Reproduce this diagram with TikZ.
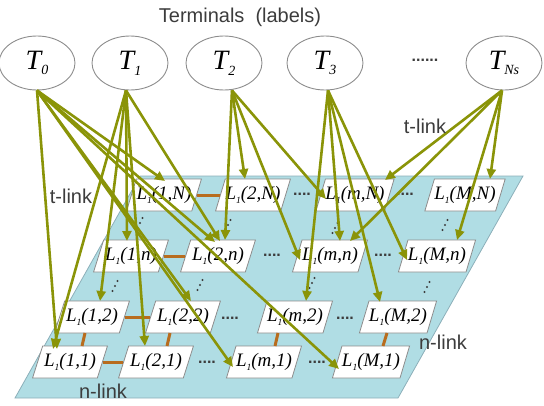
\documentclass[tikz,border=0pt]{standalone}
\usepackage{fontspec}
\setmainfont{Liberation Serif}
\newfontfamily\arialf{Liberation Sans}
\usetikzlibrary{shapes.geometric,arrows.meta,calc}
\definecolor{tlc}{RGB}{138,148,8}
\definecolor{nlc}{RGB}{184,108,30}
\definecolor{planec}{RGB}{176,221,228}
\definecolor{planeb}{RGB}{140,175,185}
\definecolor{boxb}{RGB}{140,140,140}
\definecolor{txtc}{RGB}{60,60,60}
\newcommand\lsub[1]{\raisebox{-0.45ex}{\scalebox{0.5}{#1}}}
\begin{document}
\begin{tikzpicture}[x=1pt,y=-1pt,
  term/.style={ellipse, draw=boxb, line width=0.9pt, minimum width=76pt, minimum height=54pt, inner sep=0pt, font=\fontsize{28}{30}\selectfont\itshape},
  lab/.style={trapezium, trapezium left angle=61, trapezium right angle=119, trapezium stretches=true, minimum width=75pt, minimum height=32pt, inner sep=0pt, draw=boxb, fill=white, line width=0.8pt, font=\fontsize{19}{20}\selectfont\itshape},
  tl/.style={draw=tlc, line width=2.6pt, -{Triangle[length=10pt,width=9pt]}},
  nl/.style={draw=nlc, line width=3pt},
  sans/.style={font=\arialf\fontsize{20}{22}\selectfont, text=txtc, inner sep=0pt},
  hdots/.style={font=\arialf\fontsize{16}{16}\selectfont\bfseries, text=txtc, inner sep=0pt}
]
\useasboundingbox (0,0) rectangle (544,405);
% plane
\filldraw[fill=planec, draw=planeb, line width=0.8pt] (140,176) -- (523,176) -- (398,398) -- (15,398) -- cycle;

% title
\node[sans] (title) at (240,17) {Terminals\ \ (labels)};

% terminals
\node[term] (T0) at (37,63) {T\lsub{0}};
\node[term] (T1) at (130,63) {T\lsub{1}};
\node[term] (T2) at (224,63) {T\lsub{2}};
\node[term] (T3) at (325,63) {T\lsub{3}};
\node[term] (TNs) at (504,63) {T\lsub{Ns}};
\node[hdots] (tdots) at (425,60) {......};

% label nodes
\node[lab] (L1N) at (164,195) {L\lsub{1}(1,N)};
\node[lab] (L2N) at (253,195) {L\lsub{1}(2,N)};
\node[lab] (LmN) at (355,195) {L\lsub{1}(m,N)};
\node[lab] (LMN) at (465,195) {L\lsub{1}(M,N)};
\node[lab] (L1n) at (131,256) {L\lsub{1}(1,n)};
\node[lab] (L2n) at (218,256) {L\lsub{1}(2,n)};
\node[lab] (Lmn) at (330,256) {L\lsub{1}(m,n)};
\node[lab] (LMn) at (437,256) {L\lsub{1}(M,n)};
\node[lab] (L12) at (92,317) {L\lsub{1}(1,2)};
\node[lab] (L22) at (183,317) {L\lsub{1}(2,2)};
\node[lab] (Lm2) at (295,317) {L\lsub{1}(m,2)};
\node[lab] (LM2) at (398,317) {L\lsub{1}(M,2)};
\node[lab] (L11) at (70,362) {L\lsub{1}(1,1)};
\node[lab] (L21) at (156,362) {L\lsub{1}(2,1)};
\node[lab] (Lm1) at (264,362) {L\lsub{1}(m,1)};
\node[lab] (LM1) at (371,362) {L\lsub{1}(M,1)};

% horizontal dots
\node[hdots] (dN1) at (302,194) {....};
\node[hdots] (dN2) at (405,194) {....};
\node[hdots] (dn1) at (272,255) {....};
\node[hdots] (dn2) at (383,255) {....};
\node[hdots] (d21) at (230,318) {....};
\node[hdots] (d22) at (345,318) {....};
\node[hdots] (d11) at (207,362) {....};
\node[hdots] (d12) at (317,362) {....};

% vertical dots
\foreach \x/\y in {140/223, 228/225, 335/228, 445/225, 115/286, 200/285, 312/283, 427/287} {
  \fill[txtc] (\x+2.5,\y-5) circle (1.2) (\x,\y) circle (1.2) (\x-2.5,\y+5) circle (1.2);
}

% n-links
\draw[nl] (L1N.east) -- (L2N.west);
\draw[nl] (L1n.east) -- (L2n.west);
\draw[nl] (L12.east) -- (L22.west);
\draw[nl] (L11.east) -- (L21.west);
\draw[nl] ($(L12)+(-7,16)$) -- ($(L11)+(12,-16)$);
\draw[nl] ($(L22)+(-13,16)$) -- ($(L21)+(11,-16)$);
\draw[nl] ($(Lm2)+(-17,16)$) -- ($(Lm1)+(11,-16)$);
\draw[nl] ($(LM2)+(-11,16)$) -- ($(LM1)+(12,-16)$);

% arrow origins
\coordinate (s0) at (T0.south);
\coordinate (s1) at ($(T1.south)+(-4,0)$);
\coordinate (s2) at ($(T2.south)+(8,0)$);
\coordinate (s3) at ($(T3.south)+(3,0)$);
\coordinate (sN) at ($(TNs.south)+(-2,0)$);

% t-links
\draw[tl] (s0) -- ($(L11)+(-13,-13)$);
\draw[tl] (s0) -- ($(L1N)+(1,-14)$);
\draw[tl] (s0) -- ($(L2n)+(-3,-14)$);
\draw[tl] (s0) -- ($(L22)+(8,-16)$);
\draw[tl] (s0) -- ($(Lm1)+(-31,5)$);
\draw[tl] (s0) -- ($(LM1)+(-32,7)$);

\draw[tl] (s1) -- ($(L11)+(-17,-13)$);
\draw[tl] (s1) -- ($(L12)+(8,-16)$);
\draw[tl] (s1) -- ($(L1n)+(-4,-15)$);
\draw[tl] (s1) -- ($(L21)+(-11,-16)$);
\draw[tl] (s1) -- ($(L2n)+(2,-15)$);

\draw[tl] (s2) -- ($(L2N)+(-8,-16)$);
\draw[tl] (s2) -- ($(L2n)+(7,-16)$);
\draw[tl] (s2) -- ($(LmN)+(-29,4)$);
\draw[tl] (s2) -- ($(Lmn)+(-30,4)$);

\draw[tl] (s3) -- ($(Lm2)+(11,-16)$);
\draw[tl] (s3) -- ($(Lmn)+(10,-15)$);
\draw[tl] (s3) -- ($(LM2)+(-18,-15)$);
\draw[tl] (s3) -- ($(LMn)+(-30,4)$);

\draw[tl] (sN) -- ($(LmN)+(30,-15)$);
\draw[tl] (sN) -- ($(Lmn)+(20,-15)$);
\draw[tl] (sN) -- ($(LMN)+(25,-16)$);
\draw[tl] (sN) -- ($(LMn)+(20,-16)$);

% link labels
\node[sans] (tl1) at (71,196) {t-link};
\node[sans] (tl2) at (425,126) {t-link};
\node[sans] (nl1) at (443,342) {n-link};
\node[sans] (nl2) at (103,391) {n-link};
\end{tikzpicture}
\end{document}
